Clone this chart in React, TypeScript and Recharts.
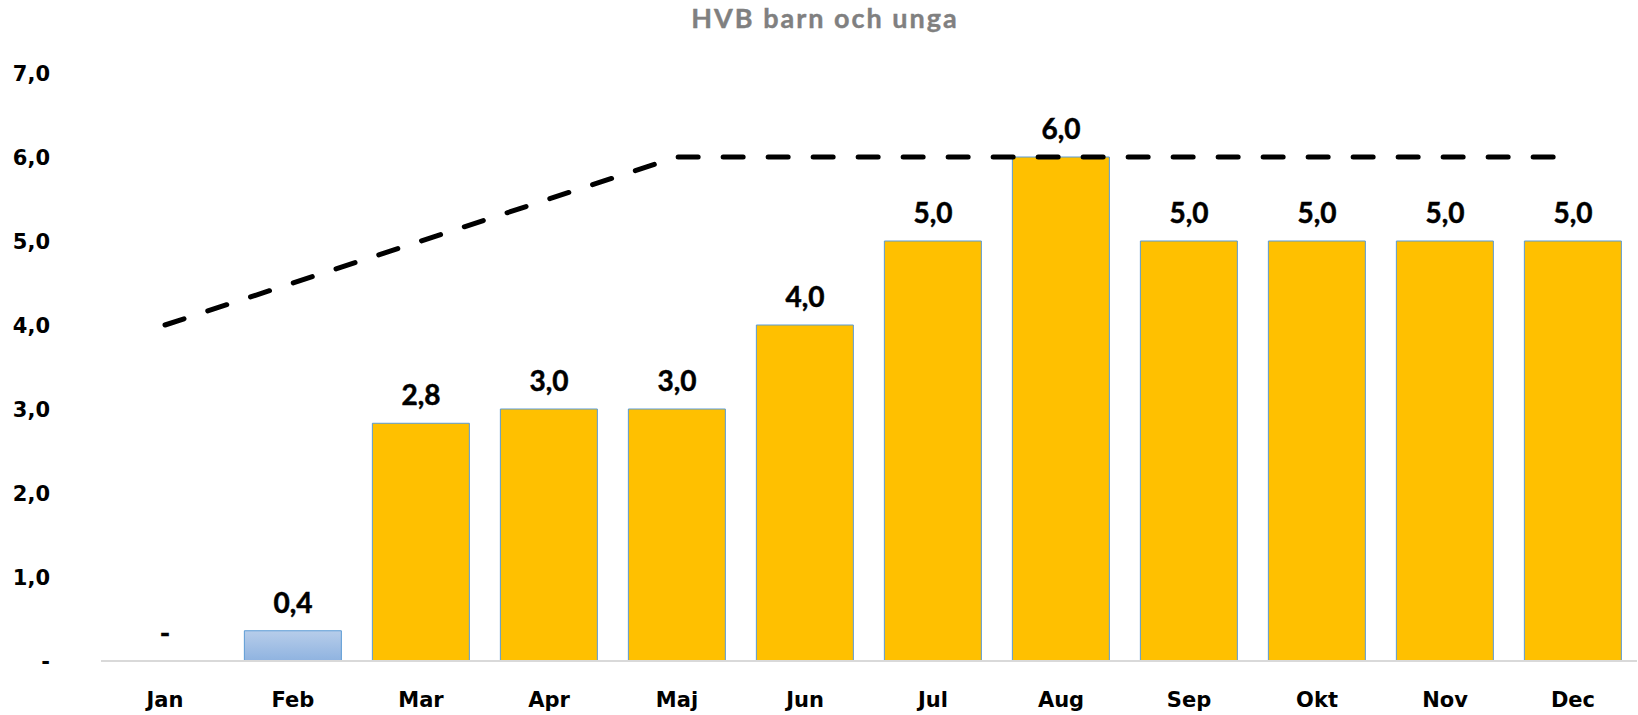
import { ComposedChart, Bar, Line, Cell, XAxis, YAxis, LabelList } from "recharts";

const months = ["Jan", "Feb", "Mar", "Apr", "Maj", "Jun", "Jul", "Aug", "Sep", "Okt", "Nov", "Dec"];
const actual = [0, 0.36, 2.83, 3.0, 3.0, 4.0, 5.0, 6.0, 5.0, 5.0, 5.0, 5.0];
const target = [4.0, 4.5, 5.0, 5.5, 6.0, 6.0, 6.0, 6.0, 6.0, 6.0, 6.0, 6.0];
const yTicks = [0, 1, 2, 3, 4, 5, 6, 7];

const data = months.map((m, i) => ({ month: m, actual: actual[i], target: target[i] }));

const COLORS = {
  bar: "#FFC000",
  border: "#5B9BD5",
  febTop: "#B7CDEA",
  febBottom: "#8FB3E0",
  axis: "#D9D9D9",
  title: "#808080",
};

const AXIS_FONT = "'DejaVu Sans', Verdana, sans-serif";
const LABEL_FONT = "Lato, 'Open Sans', sans-serif";

const fmt = (v: number) => (v === 0 ? "-" : v.toFixed(1).replace(".", ","));

function YTick(props: any) {
  const { y, payload } = props;
  return (
    <text x={50} y={y} dy={8} textAnchor="end" fontFamily={AXIS_FONT} fontWeight="bold" fontSize={21} fill="#000">
      {fmt(payload.value)}
    </text>
  );
}

function XTick(props: any) {
  const { x, payload } = props;
  return (
    <text x={x} y={707} textAnchor="middle" fontFamily={AXIS_FONT} fontWeight="bold" fontSize={21} fill="#000">
      {payload.value}
    </text>
  );
}

// labels sit on a hidden line so the zero month still gets its "-"
function BarLabel(props: any) {
  const { x, y, value } = props;
  return (
    <text
      x={x}
      y={y - 18}
      textAnchor="middle"
      fontFamily={LABEL_FONT}
      fontWeight="bold"
      fontSize={28}
      fill="#000"
      stroke="#000"
      strokeWidth={0.5}
    >
      {fmt(value)}
    </text>
  );
}

export default function App() {
  return (
    <div style={{ position: "absolute", left: 0, top: 0, width: 1638, height: 715, background: "#fff" }}>
      <div
        style={{
          position: "absolute",
          top: 1,
          left: 0,
          width: 1650,
          textAlign: "center",
          fontFamily: LABEL_FONT,
          fontWeight: "bold",
          fontSize: 27,
          letterSpacing: 2,
          color: COLORS.title,
          WebkitTextStroke: "0.4px #808080",
        }}
      >
        HVB barn och unga
      </div>
      <ComposedChart
        width={1638}
        height={715}
        data={data}
        margin={{ top: 73, right: 1, left: 0, bottom: 0 }}
        barCategoryGap="12%"
      >
        <defs>
          <linearGradient id="febGrad" x1="0" y1="0" x2="0" y2="1">
            <stop offset="0%" stopColor={COLORS.febTop} />
            <stop offset="100%" stopColor={COLORS.febBottom} />
          </linearGradient>
        </defs>
        <XAxis
          dataKey="month"
          height={54}
          tick={<XTick />}
          tickLine={false}
          axisLine={{ stroke: COLORS.axis, strokeWidth: 2 }}
          interval={0}
        />
        <YAxis width={101} domain={[0, 7]} ticks={yTicks} tick={<YTick />} tickLine={false} axisLine={false} />
        <Bar dataKey="actual" stroke={COLORS.border} strokeWidth={1} isAnimationActive={false}>
          {data.map((d, i) => (
            <Cell key={d.month} fill={i === 1 ? "url(#febGrad)" : COLORS.bar} />
          ))}
        </Bar>
        <Line
          type="linear"
          dataKey="target"
          stroke="#000"
          strokeWidth={5}
          strokeDasharray="20 25"
          strokeLinecap="round"
          dot={false}
          activeDot={false}
          isAnimationActive={false}
        />
        <Line
          type="linear"
          dataKey="actual"
          stroke="none"
          dot={false}
          activeDot={false}
          legendType="none"
          isAnimationActive={false}
        >
          <LabelList dataKey="actual" content={<BarLabel />} />
        </Line>
      </ComposedChart>
    </div>
  );
}
